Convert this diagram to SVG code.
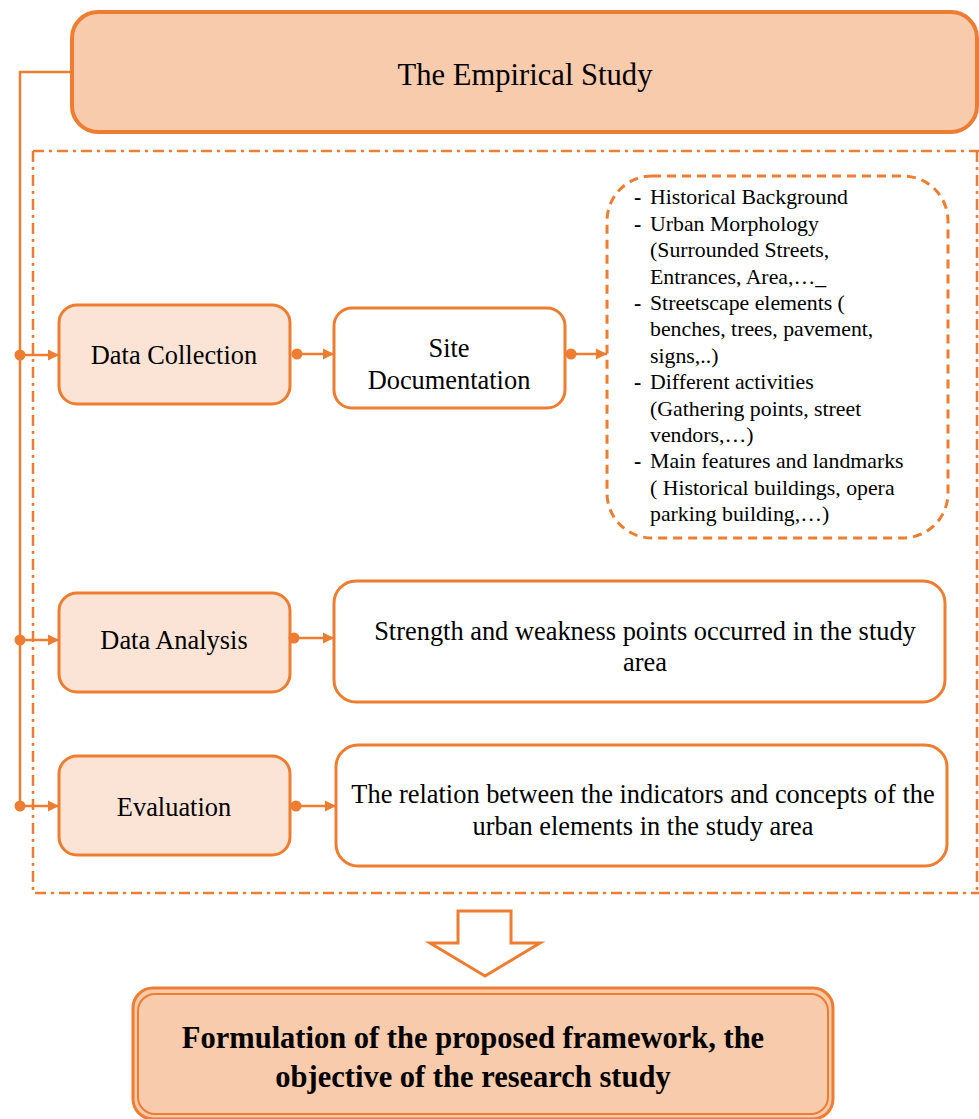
<svg xmlns="http://www.w3.org/2000/svg" width="979" height="1119" viewBox="0 0 979 1119">
<defs>
<style>
text{font-family:'Liberation Serif','Times New Roman',Times,serif}
.t{fill:#000;text-anchor:middle}
.l{fill:#000;font-size:21.8px}
.ln{stroke:#ED7D31;stroke-width:2.5;fill:none}
.dot{fill:#ED7D31}
.box{stroke:#ED7D31;stroke-width:3;fill:#FBE4D5}
.wbox{stroke:#ED7D31;stroke-width:3;fill:#fff}
</style>
<marker id="ah" viewBox="0 0 10 10" refX="10" refY="5" markerWidth="4.5" markerHeight="4.5" markerUnits="strokeWidth" orient="auto">
<path d="M0,0 L10,5 L0,10 z" fill="#ED7D31"/>
</marker>
</defs>
<rect width="979" height="1119" fill="#fff"/>

<g id="group-frame">
<path d="M33,151 H979 M33,151 V893 H979 M977,151 V893" fill="none" stroke="#ED7D31" stroke-width="2.5" stroke-dasharray="11,5,3,5"/>
</g>

<g id="node-empirical">
<rect x="72" y="12" width="905" height="120" rx="26" fill="#F7CBAC" stroke="#ED7D31" stroke-width="4"/>
<text class="t" x="525" y="85" font-size="30.6">The Empirical Study</text>
</g>

<g id="node-data-collection">
<rect class="box" x="59" y="305" width="231" height="99" rx="18"/>
<text class="t" x="174" y="364" font-size="26.4">Data Collection</text>
</g>

<g id="node-site-doc">
<rect class="wbox" x="334" y="308" width="231" height="100" rx="18"/>
<text class="t" x="449" y="357" font-size="26.4">Site</text>
<text class="t" x="449" y="389" font-size="26.4">Documentation</text>
</g>

<g id="node-list">
<rect x="607" y="176" width="341" height="362" rx="45" fill="#fff" stroke="#ED7D31" stroke-width="3" stroke-dasharray="9,6"/>
<text class="l"><tspan x="634" y="204" font-weight="bold">-</tspan><tspan x="650" y="204">Historical Background</tspan></text>
<text class="l"><tspan x="634" y="231" font-weight="bold">-</tspan><tspan x="650" y="231">Urban Morphology</tspan></text>
<text class="l" x="650" y="257">(Surrounded Streets,</text>
<text class="l" x="650" y="284">Entrances, Area,…_</text>
<text class="l"><tspan x="634" y="310" font-weight="bold">-</tspan><tspan x="650" y="310">Streetscape elements (</tspan></text>
<text class="l" x="650" y="336">benches, trees, pavement,</text>
<text class="l" x="650" y="363">signs,..)</text>
<text class="l"><tspan x="634" y="389" font-weight="bold">-</tspan><tspan x="650" y="389">Different activities</tspan></text>
<text class="l" x="650" y="416">(Gathering points, street</text>
<text class="l" x="650" y="442">vendors,…)</text>
<text class="l"><tspan x="634" y="468" font-weight="bold">-</tspan><tspan x="650" y="468">Main features and landmarks</tspan></text>
<text class="l" x="650" y="495">( Historical buildings, opera</text>
<text class="l" x="650" y="521">parking building,…)</text>
</g>

<g id="node-data-analysis">
<rect class="box" x="59" y="593" width="231" height="99" rx="18"/>
<text class="t" x="174" y="649" font-size="26.4">Data Analysis</text>
</g>

<g id="node-strength">
<rect class="wbox" x="334" y="581" width="611" height="121" rx="22"/>
<text class="t" x="645" y="640" font-size="26.4">Strength and weakness points occurred in the study</text>
<text class="t" x="645" y="671" font-size="26.4">area</text>
</g>

<g id="node-evaluation">
<rect class="box" x="59" y="756" width="231" height="99" rx="18"/>
<text class="t" x="174" y="816" font-size="26.4">Evaluation</text>
</g>

<g id="node-relation">
<rect class="wbox" x="336" y="745" width="611" height="121" rx="22"/>
<text class="t" x="643" y="803" font-size="26.4">The relation between the indicators and concepts of the</text>
<text class="t" x="643" y="835" font-size="26.4">urban elements in the study area</text>
</g>

<g id="node-big-arrow">
<path d="M458,911 H511 V943 H540 L485,976 L430,943 H458 Z" fill="#fff" stroke="#ED7D31" stroke-width="3"/>
</g>

<g id="node-formulation">
<rect x="133" y="988" width="700" height="131" rx="20" fill="#F7CBAC" stroke="#ED7D31" stroke-width="3"/>
<rect x="138" y="994" width="690" height="120" rx="17" fill="none" stroke="#ED7D31" stroke-width="2"/>
<text class="t" x="473" y="1048" font-size="30.5" font-weight="bold">Formulation of the proposed framework, the</text>
<text class="t" x="473" y="1087" font-size="30.5" font-weight="bold">objective of the research study</text>
</g>

<g id="connectors">
<path class="ln" d="M72,72 H20 V806"/>
<circle class="dot" cx="20" cy="355" r="5.5"/>
<path class="ln" d="M20,355 H59" marker-end="url(#ah)"/>
<circle class="dot" cx="20" cy="640" r="5.5"/>
<path class="ln" d="M20,640 H59" marker-end="url(#ah)"/>
<circle class="dot" cx="20" cy="806" r="5.5"/>
<path class="ln" d="M20,806 H59" marker-end="url(#ah)"/>
<circle class="dot" cx="297" cy="354" r="5.5"/>
<path class="ln" d="M297,354 H334" marker-end="url(#ah)"/>
<circle class="dot" cx="571" cy="354" r="5.5"/>
<path class="ln" d="M571,354 H607" marker-end="url(#ah)"/>
<circle class="dot" cx="294" cy="638" r="5.5"/>
<path class="ln" d="M294,638 H334" marker-end="url(#ah)"/>
<circle class="dot" cx="296" cy="806" r="5.5"/>
<path class="ln" d="M296,806 H336" marker-end="url(#ah)"/>
</g>
</svg>
